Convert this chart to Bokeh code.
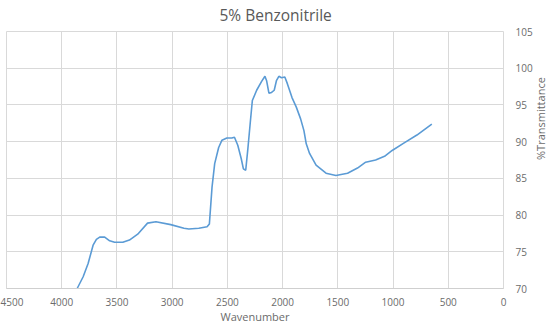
import math
from bokeh.plotting import figure
from bokeh.models import Range1d, FixedTicker, ColumnDataSource
from bokeh.embed import file_html
from bokeh.resources import INLINE

title_text = "5% Benzonitrile"
x_title = "Wavenumber"
y_title = "%Transmittance"

x_ticks = [4500, 4000, 3500, 3000, 2500, 2000, 1500, 1000, 500, 0]
y_ticks = [70, 75, 80, 85, 90, 95, 100, 105]

wavenumber = [3860, 3806, 3761, 3716, 3686, 3656, 3611, 3566, 3521, 3447,
              3387, 3312, 3223, 3147, 3013, 2893, 2849, 2759, 2684, 2663,
              2639, 2615, 2579, 2549, 2505, 2460, 2436, 2406, 2375, 2355,
              2334, 2316, 2294, 2274, 2235, 2190, 2160, 2145, 2124, 2100,
              2076, 2056, 2034, 2010, 1980, 1957, 1915, 1876, 1837, 1807,
              1786, 1756, 1697, 1607, 1517, 1412, 1322, 1248, 1158, 1077,
              1008, 903, 784, 649]
transmittance = [70.0, 71.6, 73.4, 75.9, 76.7, 77.0, 77.0, 76.5, 76.3, 76.3,
                 76.6, 77.4, 78.9, 79.1, 78.7, 78.2, 78.1, 78.2, 78.4, 78.8,
                 83.8, 87.0, 89.2, 90.2, 90.5, 90.5, 90.6, 89.5, 87.7, 86.3,
                 86.1, 88.8, 92.4, 95.6, 97.0, 98.2, 98.9, 98.3, 96.6, 96.7,
                 97.0, 98.3, 98.9, 98.7, 98.8, 97.9, 96.0, 94.7, 93.1, 91.5,
                 89.7, 88.4, 86.8, 85.7, 85.4, 85.7, 86.4, 87.2, 87.5, 88.0,
                 88.8, 89.8, 90.9, 92.4]

FONT = "Open Sans"
TXT = "#6b6b6b"

p = figure(width=558, height=326, output_backend="svg", toolbar_location=None,
           title=title_text, y_axis_location="right",
           x_range=Range1d(4500, 0), y_range=Range1d(70, 105),
           min_border_left=6, min_border_right=51, min_border_top=31,
           min_border_bottom=38)

p.title.align = "left"
p.title.offset = 213
p.title.vertical_align = "top"
p.title.text_baseline = "middle"
p.title.text_font = FONT
p.title.text_font_size = "15.5px"
p.title.text_font_style = "normal"
p.title.text_color = "#595959"
p.title.standoff = 7

src = ColumnDataSource(dict(x=wavenumber, y=transmittance))
p.line("x", "y", source=src, line_color="#5b9bd5", line_width=1.6)

p.xaxis.ticker = FixedTicker(ticks=x_ticks)
p.yaxis.ticker = FixedTicker(ticks=y_ticks)
for ax in (p.xaxis[0], p.yaxis[0]):
    ax.major_tick_line_color = None
    ax.minor_tick_line_color = None
    ax.major_tick_in = 0
    ax.major_tick_out = 0
    ax.minor_tick_in = 0
    ax.minor_tick_out = 0
    ax.major_label_text_font = FONT
    ax.major_label_text_font_size = "10px"
    ax.major_label_text_color = TXT
    ax.axis_label_text_font = FONT
    ax.axis_label_text_font_size = "11px"
    ax.axis_label_text_font_style = "normal"
    ax.axis_label_text_color = TXT

p.xaxis.axis_label = x_title
p.xaxis.axis_label_standoff = 0
p.xaxis.major_label_standoff = 9
p.xaxis.axis_line_color = "#cfcfcf"

p.yaxis.axis_label = y_title
p.yaxis.axis_label_standoff = 5
p.yaxis.axis_label_orientation = math.pi / 2
p.yaxis.major_label_standoff = 12
p.yaxis.axis_line_color = None

p.xgrid.ticker = FixedTicker(ticks=x_ticks)
p.ygrid.ticker = FixedTicker(ticks=y_ticks)
p.grid.grid_line_color = "#d9d9d9"
p.grid.grid_line_width = 1
p.outline_line_color = "#d9d9d9"
p.background_fill_color = "white"
p.border_fill_color = "white"

open("out.html", "w").write(file_html(p, INLINE))
